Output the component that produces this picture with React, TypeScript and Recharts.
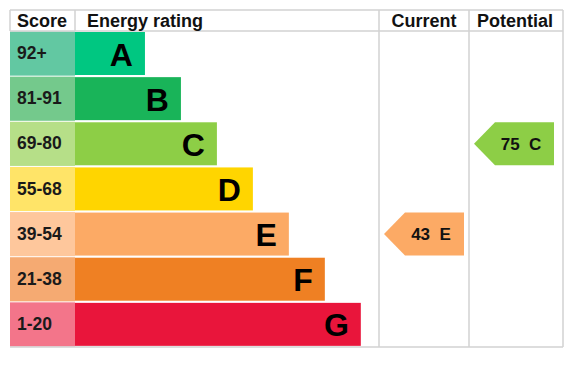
import React from 'react';
import { BarChart, Bar, XAxis, YAxis } from 'recharts';

const bands = ['A', 'B', 'C', 'D', 'E', 'F', 'G'];
const scoreRanges = ['92+', '81-91', '69-80', '55-68', '39-54', '21-38', '1-20'];
const bandMins = [92, 81, 69, 55, 39, 21, 1];
const barLengths = [2, 3, 4, 5, 6, 7, 8];
const bandColors = ['#00c781', '#19b459', '#8dce46', '#ffd500', '#fcaa65', '#ef8023', '#e9153b'];
const scoreColors = ['#62c8a2', '#74c98c', '#b6df88', '#ffe468', '#fec79c', '#f5aa72', '#f3758a'];
const currentScore = 43;
const potentialScore = 75;

const W = 573;
const H = 382;
const TOP = 10;
const HEAD = 31;
const BOTTOM = 347;
const LEFT = 10;
const SCORE_R = 75;
const CUR_L = 379;
const POT_L = 469;
const RIGHT = 563;
const FONT = '"Liberation Sans", Arial, sans-serif';
const GRID = '#d2d2d2';

const bandOf = (score: number) => bands[bandMins.findIndex((m) => score >= m)];

const data = bands.map((band, i) => ({
  band,
  score: scoreRanges[i],
  length: barLengths[i],
  current: bandOf(currentScore) === band ? currentScore : null,
  potential: bandOf(potentialScore) === band ? potentialScore : null,
}));

function Arrow({ left, y, height, value, band, color }: any) {
  const right = left + 80;
  const cy = y + height / 2;
  const pts = `${left},${cy} ${left + 21},${y} ${right},${y} ${right},${y + height} ${left + 21},${y + height}`;
  return (
    <g>
      <polygon points={pts} fill={color} />
      <text x={left + 47} y={cy + 6} textAnchor="middle" fontSize={17} fontWeight="bold"
        fontFamily={FONT} fill="#111" style={{ whiteSpace: 'pre' }}>
        {`${value}  ${band}`}
      </text>
    </g>
  );
}

function RatingBar(props: any) {
  const { x, y, width, height, payload, index } = props;
  return (
    <g>
      <rect x={x} y={y} width={width - 2} height={height} fill={bandColors[index]} />
      <text x={x + width - 14} y={y + height / 2 + 12} textAnchor="end" fontSize={32}
        fontWeight="bold" fontFamily={FONT} fill="#000">
        {payload.band}
      </text>
      {payload.current != null && (
        <Arrow left={CUR_L + 5} y={y} height={height} value={payload.current}
          band={payload.band} color={bandColors[index]} />
      )}
      {payload.potential != null && (
        <Arrow left={POT_L + 5} y={y} height={height} value={payload.potential}
          band={payload.band} color={bandColors[index]} />
      )}
    </g>
  );
}

function ScoreTick(props: any) {
  const { y, payload } = props;
  const i = bands.indexOf(payload.value);
  const rowH = (BOTTOM - HEAD) / bands.length;
  return (
    <g>
      <rect x={LEFT} y={y - rowH / 2 + 0.5} width={SCORE_R - LEFT} height={rowH - 1} fill={scoreColors[i]} />
      <text x={17} y={y + 5.5} fontSize={17.5} fontWeight="bold" fontFamily={FONT} fill="#1a1a1a">
        {scoreRanges[i]}
      </text>
    </g>
  );
}

export default function App() {
  return (
    <div style={{ position: 'absolute', left: 0, top: 0, width: W, height: H, background: '#fff' }}>
      <BarChart
        width={W}
        height={H}
        data={data}
        layout="vertical"
        barCategoryGap={1}
        margin={{ top: HEAD, right: W - CUR_L, bottom: H - BOTTOM, left: LEFT }}
      >
        <XAxis type="number" hide domain={[0, 8.45]} />
        <YAxis type="category" dataKey="band" width={SCORE_R - LEFT} axisLine={false}
          tickLine={false} tick={<ScoreTick />} interval={0} />
        <Bar dataKey="length" shape={<RatingBar />} isAnimationActive={false} />
      </BarChart>
      <svg width={W} height={H} style={{ position: 'absolute', left: 0, top: 0, pointerEvents: 'none' }}>
        <g stroke={GRID} strokeWidth={1.5}>
          <line x1={LEFT} y1={TOP} x2={RIGHT} y2={TOP} />
          <line x1={LEFT} y1={HEAD} x2={RIGHT} y2={HEAD} />
          <line x1={LEFT} y1={BOTTOM} x2={RIGHT} y2={BOTTOM} />
          <line x1={LEFT} y1={TOP} x2={LEFT} y2={HEAD} />
          <line x1={SCORE_R} y1={TOP} x2={SCORE_R} y2={HEAD} />
          <line x1={CUR_L} y1={TOP} x2={CUR_L} y2={BOTTOM} />
          <line x1={POT_L} y1={TOP} x2={POT_L} y2={BOTTOM} />
          <line x1={RIGHT} y1={TOP} x2={RIGHT} y2={BOTTOM} />
        </g>
        <g fontFamily={FONT} fontWeight="bold" fontSize={18} fill="#111">
          <text x={17} y={27}>Score</text>
          <text x={87} y={27}>Energy rating</text>
          <text x={(CUR_L + POT_L) / 2} y={27} textAnchor="middle">Current</text>
          <text x={(POT_L + RIGHT) / 2 - 1} y={27} textAnchor="middle">Potential</text>
        </g>
      </svg>
    </div>
  );
}
